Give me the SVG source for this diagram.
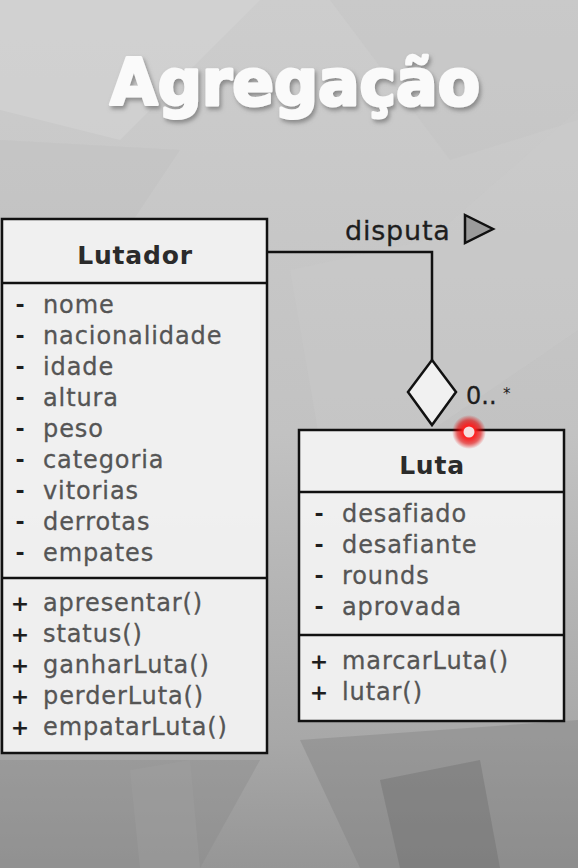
<svg xmlns="http://www.w3.org/2000/svg" width="578" height="868" viewBox="0 0 578 868">
  <defs>
    <linearGradient id="bg" x1="0" y1="0" x2="0" y2="1">
      <stop offset="0" stop-color="#cdcdcd"/>
      <stop offset="0.5" stop-color="#c2c2c2"/>
      <stop offset="0.85" stop-color="#a8a8a8"/>
      <stop offset="1" stop-color="#969696"/>
    </linearGradient>
    <radialGradient id="glow">
      <stop offset="0.35" stop-color="#ff2020" stop-opacity="1"/>
      <stop offset="0.7" stop-color="#e00000" stop-opacity="0.6"/>
      <stop offset="1" stop-color="#e00000" stop-opacity="0"/>
    </radialGradient>
    <filter id="shadow" x="-10%" y="-30%" width="120%" height="160%">
      <feDropShadow dx="2" dy="3" stdDeviation="2" flood-color="#6e6e6e" flood-opacity="0.7"/>
    </filter>
    <style>
      .box { fill: #f1f1f1; fill-opacity: 0.96; stroke: #111; stroke-width: 2.5; }
      .div { stroke: #111; stroke-width: 2.5; }
      .hdr { font-family: "DejaVu Sans", sans-serif; font-size: 25px; font-weight: bold; fill: #2b2b2b; text-anchor: middle; letter-spacing: 0.8px; }
      .item { font-family: "DejaVu Sans", sans-serif; font-size: 24px; fill: #555555; letter-spacing: 0.9px; stroke: #555555; stroke-width: 0.3; }
      .vis { font-family: "DejaVu Sans", sans-serif; font-size: 22px; font-weight: bold; fill: #1e1e1e; text-anchor: middle; }
      .lbl { font-family: "DejaVu Sans", sans-serif; font-size: 27px; fill: #1e1e1e; letter-spacing: 0.8px; stroke: #1e1e1e; stroke-width: 0.3; }
      .line { fill: none; stroke: #111; stroke-width: 2.5; }
      .title { font-family: "DejaVu Sans", sans-serif; font-size: 64px; font-weight: bold; text-anchor: middle; }
    </style>
  </defs>

  <!-- background -->
  <rect width="578" height="868" fill="url(#bg)"/>
  <polygon points="0,0 260,0 120,140 0,110" fill="#d6d6d6" opacity="0.45"/>
  <polygon points="330,0 578,0 578,120 450,160" fill="#c4c4c4" opacity="0.4"/>
  <polygon points="0,140 180,150 60,330 0,300" fill="#bdbdbd" opacity="0.35"/>
  <polygon points="290,270 430,240 578,110 578,330 330,500" fill="#cacaca" opacity="0.35"/>
  <polygon points="0,760 260,760 200,868 0,868" fill="#8a8a8a" opacity="0.4"/>
  <polygon points="300,740 578,720 578,868 360,868" fill="#808080" opacity="0.4"/>
  <polygon points="380,780 480,760 500,868 400,868" fill="#666666" opacity="0.35"/>
  <polygon points="130,770 190,760 200,868 140,868" fill="#a0a0a0" opacity="0.4"/>

  <!-- title -->
  <g id="title" filter="url(#shadow)">
    <text class="title" x="295" y="105" fill="#fafafa" textLength="370" lengthAdjust="spacingAndGlyphs" stroke="#fafafa" stroke-width="3" stroke-linejoin="round">Agregação</text>
  </g>

  <!-- connectors -->
  <g id="connectors">
    <polyline class="line" points="267,252 432,252 432,360"/>
    <polygon points="432,360 456,392 432,425 408,392" fill="#f1f1f1" stroke="#111" stroke-width="2.5" stroke-linejoin="miter"/>
    <text class="lbl" x="345" y="240">disputa</text>
    <polygon points="465,215 493,229 465,243" fill="#9b9b9b" stroke="#111" stroke-width="2.5"/>
    <text x="466" y="404" font-family="DejaVu Sans, sans-serif" font-size="24" fill="#1e1e1e" stroke="#1e1e1e" stroke-width="0.3">0..</text>
    <text x="503" y="399" font-family="DejaVu Sans, sans-serif" font-size="15" fill="#1e1e1e">*</text>
  </g>

  <!-- Lutador -->
  <g id="lutador">
    <rect class="box" x="2" y="219" width="265" height="534"/>
    <line class="div" x1="2" y1="283" x2="267" y2="283"/>
    <line class="div" x1="2" y1="578" x2="267" y2="578"/>
    <text class="hdr" x="135" y="264">Lutador</text>
    <g class="vis">
      <text x="20" y="312">-</text>
      <text x="20" y="343">-</text>
      <text x="20" y="374">-</text>
      <text x="20" y="405">-</text>
      <text x="20" y="436">-</text>
      <text x="20" y="467">-</text>
      <text x="20" y="498">-</text>
      <text x="20" y="529">-</text>
      <text x="20" y="560">-</text>
      <text x="20" y="611">+</text>
      <text x="20" y="642">+</text>
      <text x="20" y="673">+</text>
      <text x="20" y="704">+</text>
      <text x="20" y="735">+</text>
    </g>
    <g class="item">
      <text x="43" y="313">nome</text>
      <text x="43" y="344">nacionalidade</text>
      <text x="43" y="375">idade</text>
      <text x="43" y="406">altura</text>
      <text x="43" y="437">peso</text>
      <text x="43" y="468">categoria</text>
      <text x="43" y="499">vitorias</text>
      <text x="43" y="530">derrotas</text>
      <text x="43" y="561">empates</text>
      <text x="43" y="611">apresentar()</text>
      <text x="43" y="642">status()</text>
      <text x="43" y="673">ganharLuta()</text>
      <text x="43" y="704">perderLuta()</text>
      <text x="43" y="735">empatarLuta()</text>
    </g>
  </g>

  <!-- Luta -->
  <g id="luta">
    <rect class="box" x="299" y="430" width="265" height="291"/>
    <line class="div" x1="299" y1="492" x2="564" y2="492"/>
    <line class="div" x1="299" y1="635" x2="564" y2="635"/>
    <text class="hdr" x="432" y="474">Luta</text>
    <g class="vis">
      <text x="319" y="521">-</text>
      <text x="319" y="552">-</text>
      <text x="319" y="583">-</text>
      <text x="319" y="614">-</text>
      <text x="319" y="669">+</text>
      <text x="319" y="700">+</text>
    </g>
    <g class="item">
      <text x="342" y="522">desafiado</text>
      <text x="342" y="553">desafiante</text>
      <text x="342" y="584">rounds</text>
      <text x="342" y="615">aprovada</text>
      <text x="342" y="669">marcarLuta()</text>
      <text x="342" y="700">lutar()</text>
    </g>
  </g>

  <!-- pointer dot -->
  <g id="pointer">
    <circle cx="469" cy="432" r="17" fill="url(#glow)"/>
    <circle cx="469" cy="432" r="5.5" fill="#f4dede"/>
  </g>
</svg>
